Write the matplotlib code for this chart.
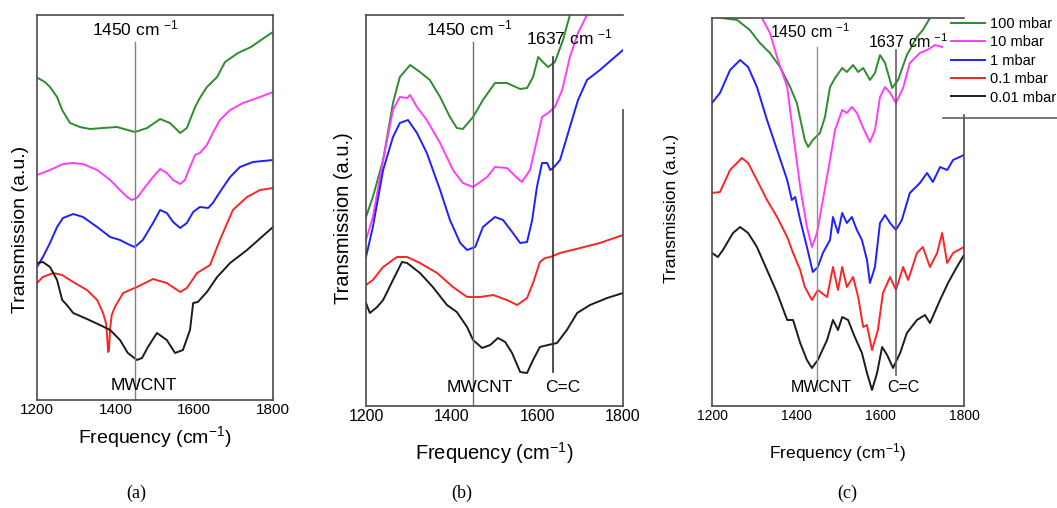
import matplotlib
matplotlib.use('Agg')
import matplotlib.pyplot as plt
from matplotlib.lines import Line2D

plt.rcParams['font.family'] = ['Liberation Sans', 'DejaVu Sans']
plt.rcParams['mathtext.default'] = 'regular'

W, H = 1057, 508

# ---- panel (a) ----
a_green_x = [1202, 1220, 1233, 1251, 1264, 1284, 1309, 1335, 1403, 1449, 1480, 1513, 1538, 1564, 1581, 1602, 1614, 1632, 1658, 1678, 1711, 1744, 1777, 1800]
a_green_y = [3.22, 3.18, 3.13, 3.03, 2.90, 2.77, 2.73, 2.71, 2.73, 2.68, 2.72, 2.81, 2.77, 2.67, 2.72, 2.93, 3.02, 3.13, 3.23, 3.38, 3.47, 3.53, 3.62, 3.68]
a_mag_x = [1200, 1233, 1266, 1292, 1317, 1353, 1386, 1411, 1429, 1441, 1454, 1475, 1495, 1513, 1530, 1546, 1564, 1576, 1589, 1602, 1614, 1632, 1647, 1665, 1691, 1724, 1767, 1800]
a_mag_y = [2.25, 2.30, 2.36, 2.37, 2.36, 2.30, 2.20, 2.10, 2.03, 2.00, 2.02, 2.13, 2.23, 2.31, 2.27, 2.20, 2.16, 2.20, 2.33, 2.45, 2.47, 2.55, 2.67, 2.80, 2.90, 2.97, 3.03, 3.08]
a_blue_x = [1200, 1215, 1233, 1251, 1266, 1292, 1317, 1353, 1386, 1411, 1436, 1449, 1469, 1495, 1513, 1530, 1546, 1564, 1581, 1597, 1614, 1635, 1647, 1665, 1691, 1716, 1749, 1800]
a_blue_y = [1.33, 1.43, 1.57, 1.73, 1.82, 1.86, 1.83, 1.73, 1.63, 1.60, 1.55, 1.53, 1.60, 1.77, 1.90, 1.87, 1.78, 1.72, 1.77, 1.88, 1.93, 1.92, 1.97, 2.08, 2.23, 2.33, 2.38, 2.40]
a_red_x = [1200, 1215, 1241, 1264, 1292, 1327, 1353, 1368, 1376, 1381, 1383, 1386, 1390, 1398, 1419, 1454, 1495, 1530, 1564, 1581, 1607, 1640, 1665, 1698, 1734, 1767, 1800]
a_red_y = [1.17, 1.23, 1.27, 1.25, 1.18, 1.10, 1.00, 0.87, 0.76, 0.48, 0.50, 0.72, 0.85, 0.93, 1.07, 1.13, 1.21, 1.17, 1.08, 1.12, 1.27, 1.35, 1.60, 1.90, 2.03, 2.10, 2.12]
a_black_x = [1200, 1215, 1233, 1251, 1264, 1276, 1292, 1327, 1360, 1386, 1411, 1431, 1454, 1467, 1482, 1505, 1530, 1551, 1571, 1589, 1597, 1609, 1632, 1658, 1691, 1734, 1800]
a_black_y = [1.37, 1.38, 1.33, 1.20, 1.00, 0.95, 0.87, 0.81, 0.75, 0.70, 0.60, 0.47, 0.40, 0.42, 0.53, 0.67, 0.60, 0.47, 0.50, 0.70, 0.97, 0.98, 1.08, 1.23, 1.37, 1.50, 1.73]

# ---- panel (b) ----
b_green_x = [1200, 1216, 1240, 1263, 1279, 1303, 1326, 1349, 1373, 1396, 1412, 1426, 1450, 1473, 1501, 1529, 1560, 1576, 1590, 1602, 1613, 1625, 1641, 1660, 1676, 1683]
b_green_y = [1.89, 2.09, 2.46, 3.03, 3.29, 3.41, 3.34, 3.26, 3.09, 2.89, 2.78, 2.77, 2.89, 3.06, 3.23, 3.23, 3.17, 3.18, 3.29, 3.49, 3.44, 3.39, 3.44, 3.66, 3.91, 4.06]
b_mag_x = [1200, 1216, 1240, 1263, 1279, 1296, 1303, 1319, 1342, 1373, 1403, 1426, 1450, 1483, 1501, 1529, 1553, 1564, 1583, 1599, 1611, 1625, 1641, 1658, 1676, 1695, 1718, 1728]
b_mag_y = [1.66, 1.89, 2.46, 2.96, 3.09, 3.08, 3.11, 2.99, 2.86, 2.63, 2.36, 2.23, 2.19, 2.29, 2.39, 2.38, 2.28, 2.24, 2.36, 2.66, 2.89, 2.93, 2.99, 3.16, 3.49, 3.73, 3.93, 4.06]
b_blue_x = [1200, 1216, 1240, 1263, 1279, 1298, 1319, 1342, 1373, 1396, 1420, 1436, 1455, 1473, 1501, 1520, 1543, 1560, 1576, 1588, 1599, 1611, 1623, 1630, 1637, 1653, 1676, 1695, 1716, 1746, 1800]
b_blue_y = [1.49, 1.79, 2.36, 2.69, 2.83, 2.86, 2.73, 2.53, 2.16, 1.86, 1.63, 1.56, 1.59, 1.79, 1.89, 1.86, 1.73, 1.63, 1.64, 1.86, 2.19, 2.43, 2.43, 2.36, 2.38, 2.46, 2.79, 3.06, 3.26, 3.36, 3.56]
b_red_x = [1200, 1216, 1240, 1272, 1296, 1326, 1366, 1403, 1436, 1466, 1497, 1529, 1553, 1576, 1590, 1606, 1618, 1630, 1653, 1700, 1746, 1800]
b_red_y = [1.21, 1.26, 1.39, 1.49, 1.49, 1.43, 1.33, 1.19, 1.09, 1.09, 1.11, 1.06, 1.01, 1.08, 1.23, 1.44, 1.48, 1.49, 1.53, 1.58, 1.63, 1.71]
b_black_x = [1200, 1209, 1226, 1240, 1263, 1284, 1296, 1326, 1356, 1389, 1412, 1436, 1450, 1471, 1490, 1508, 1525, 1541, 1560, 1576, 1590, 1606, 1625, 1646, 1669, 1693, 1723, 1763, 1800]
b_black_y = [1.03, 0.93, 0.99, 1.06, 1.26, 1.44, 1.43, 1.33, 1.19, 1.01, 0.94, 0.79, 0.66, 0.58, 0.61, 0.68, 0.64, 0.53, 0.34, 0.33, 0.46, 0.59, 0.61, 0.63, 0.76, 0.93, 1.01, 1.08, 1.13]

# ---- panel (c) ----
c_green_x = [1200, 1224, 1260, 1290, 1314, 1338, 1362, 1386, 1402, 1421, 1429, 1440, 1457, 1469, 1481, 1493, 1510, 1521, 1536, 1548, 1560, 1576, 1588, 1600, 1612, 1629, 1643, 1664, 1688, 1702, 1719, 1731]
c_green_y = [3.96, 3.88, 3.86, 3.76, 3.63, 3.53, 3.39, 3.19, 3.03, 2.66, 2.59, 2.66, 2.73, 2.89, 3.19, 3.28, 3.38, 3.34, 3.41, 3.34, 3.38, 3.26, 3.33, 3.51, 3.43, 3.18, 3.26, 3.51, 3.69, 3.76, 3.88, 3.98]
c_mag_x = [1302, 1319, 1338, 1357, 1379, 1393, 1410, 1426, 1438, 1450, 1464, 1481, 1493, 1510, 1521, 1533, 1545, 1560, 1576, 1588, 1600, 1612, 1624, 1638, 1655, 1671, 1695, 1712, 1731, 1748]
c_mag_y = [4.11, 3.88, 3.73, 3.46, 3.19, 2.73, 2.19, 1.79, 1.59, 1.73, 2.06, 2.46, 2.76, 2.96, 2.93, 2.99, 2.93, 2.78, 2.64, 2.76, 3.09, 3.19, 3.13, 3.03, 3.18, 3.43, 3.53, 3.56, 3.61, 3.59]
c_blue_x = [1200, 1219, 1243, 1267, 1286, 1307, 1331, 1355, 1379, 1390, 1398, 1410, 1426, 1440, 1452, 1464, 1481, 1488, 1500, 1510, 1521, 1533, 1545, 1557, 1569, 1576, 1588, 1600, 1612, 1624, 1638, 1652, 1671, 1695, 1712, 1726, 1743, 1760, 1774, 1800]
c_blue_y = [3.03, 3.13, 3.36, 3.46, 3.39, 3.19, 2.86, 2.56, 2.26, 2.06, 2.09, 1.86, 1.59, 1.34, 1.39, 1.53, 1.66, 1.89, 1.73, 1.93, 1.83, 1.89, 1.76, 1.66, 1.46, 1.23, 1.39, 1.83, 1.91, 1.83, 1.76, 1.86, 2.13, 2.23, 2.33, 2.24, 2.39, 2.36, 2.46, 2.51]
c_red_x = [1200, 1219, 1243, 1271, 1286, 1307, 1331, 1355, 1379, 1393, 1410, 1421, 1438, 1452, 1474, 1488, 1500, 1510, 1521, 1536, 1548, 1560, 1569, 1581, 1595, 1607, 1624, 1638, 1655, 1667, 1688, 1702, 1719, 1736, 1748, 1760, 1774, 1800]
c_red_y = [2.13, 2.14, 2.36, 2.48, 2.43, 2.26, 2.06, 1.89, 1.69, 1.53, 1.36, 1.19, 1.06, 1.16, 1.09, 1.39, 1.16, 1.39, 1.19, 1.29, 1.09, 0.79, 0.81, 0.56, 0.76, 1.13, 1.29, 1.16, 1.39, 1.26, 1.53, 1.59, 1.39, 1.53, 1.73, 1.43, 1.53, 1.59]
c_black_x = [1200, 1214, 1226, 1250, 1267, 1286, 1307, 1331, 1355, 1379, 1393, 1410, 1426, 1438, 1452, 1474, 1488, 1500, 1510, 1524, 1540, 1557, 1569, 1581, 1593, 1605, 1617, 1631, 1648, 1664, 1688, 1707, 1719, 1743, 1762, 1783, 1800]
c_black_y = [1.53, 1.49, 1.56, 1.73, 1.79, 1.73, 1.59, 1.36, 1.13, 0.86, 0.86, 0.63, 0.46, 0.38, 0.46, 0.66, 0.86, 0.76, 0.89, 0.86, 0.69, 0.53, 0.33, 0.16, 0.33, 0.59, 0.51, 0.38, 0.53, 0.73, 0.86, 0.91, 0.83, 1.06, 1.23, 1.39, 1.51]

labels = ['100 mbar', '10 mbar', '1 mbar', '0.1 mbar', '0.01 mbar']
colors = ['#2e8b2e', '#ff3cff', '#1f1fff', '#ff2424', '#1c1c1c']
peaks = [1450, 1637]
xticks = [1200, 1400, 1600, 1800]

fig = plt.figure(figsize=(W / 100, H / 100), dpi=100)


def make_ax(left, top, right, bottom):
    return fig.add_axes([left / W, 1 - bottom / H, (right - left) / W, (bottom - top) / H])


def ftext(px, py, s, **kw):
    fig.text(px / W, 1 - py / H, s, ha='center', va='center', **kw)


def style(ax, ymax, fs_tick, fs_lab, xl, yl, right_frac=None):
    ax.set_xlim(1200, 1800)
    ax.set_ylim(0, ymax)
    ax.set_xticks(xticks)
    ax.set_yticks([])
    ax.tick_params(axis='x', length=0, pad=2, labelsize=fs_tick)
    for s in ax.spines.values():
        s.set_color('#4a4a4a')
        s.set_linewidth(1.2)
    ax.set_xlabel('Frequency (cm$^{-1}$)', fontsize=fs_lab, va='center')
    ax.xaxis.set_label_coords(0.5, xl)
    ax.set_ylabel('Transmission (a.u.)', fontsize=fs_lab, va='center')
    ax.yaxis.set_label_coords(yl[0], yl[1])
    if right_frac is not None:
        # right frame only starts below the labels/legend
        ax.spines['right'].set_visible(False)
        ax.plot([1, 1], [0, right_frac], transform=ax.transAxes, color='#4a4a4a',
                lw=1.2, clip_on=False)


# (a)
ax1 = make_ax(37, 15, 273, 400)
for xs, ys, c in zip([a_green_x, a_mag_x, a_blue_x, a_red_x, a_black_x],
                     [a_green_y, a_mag_y, a_blue_y, a_red_y, a_black_y], colors):
    ax1.plot(xs, ys, color=c, lw=1.4)
ax1.axvline(peaks[0], ymin=0, ymax=0.93, color='#808080', lw=1)
style(ax1, 3.85, 11, 14, -0.096, (-0.072, 0.444))
ftext(135, 28, '1450 cm $^{-1}$', fontsize=12.5)
ftext(144, 385, 'MWCNT', fontsize=12.5)

# (b)
ax2 = make_ax(366, 15, 623, 406)
for xs, ys, c in zip([b_green_x, b_mag_x, b_blue_x, b_red_x, b_black_x],
                     [b_green_y, b_mag_y, b_blue_y, b_red_y, b_black_y], colors):
    ax2.plot(xs, ys, color=c, lw=1.4)
ax2.axvline(peaks[0], ymin=0, ymax=0.931, color='#707070', lw=1)
ax2.axvline(peaks[1], ymin=0.087, ymax=0.893, color='#303030', lw=1.2)
style(ax2, 3.91, 11.5, 14.5, -0.120, (-0.086, 0.481), right_frac=0.757)
ftext(469, 28, '1450 cm $^{-1}$', fontsize=12.5)
ftext(569, 37, '1637 cm $^{-1}$', fontsize=12.5)
ftext(480, 388, 'MWCNT', fontsize=12.5)
ftext(563, 387, 'C=C', fontsize=12.5)

# (c)
ax3 = make_ax(712, 18, 964, 406)
lines = []
for xs, ys, c in zip([c_green_x, c_mag_x, c_blue_x, c_red_x, c_black_x],
                     [c_green_y, c_mag_y, c_blue_y, c_red_y, c_black_y], colors):
    ln, = ax3.plot(xs, ys, color=c, lw=1.4)
    lines.append(ln)
ax3.axvline(peaks[0], ymin=0.041, ymax=0.925, color='#909090', lw=1)
ax3.axvline(peaks[1], ymin=0.08, ymax=0.918, color='#606060', lw=1.2)
style(ax3, 3.88, 10, 12.5, -0.121, (-0.159, 0.51), right_frac=0.75)
ftext(810, 32, '1450 cm $^{-1}$', fontsize=11.5)
ftext(908, 42, '1637 cm $^{-1}$', fontsize=11.5)
ftext(821, 388, 'MWCNT', fontsize=11.5)
ftext(903, 387, 'C=C', fontsize=11.5)

fig.legend(lines, labels, loc='upper left', bbox_to_anchor=(951 / W, 1 - 17 / H),
           frameon=False, fontsize=10.5, borderpad=0, borderaxespad=0,
           handlelength=2.3, handletextpad=0.35, labelspacing=0.3)
fig.add_artist(Line2D([943 / W, 1.0], [1 - 118 / H, 1 - 118 / H],
                      transform=fig.transFigure, color='#606060', lw=1.2))

for px, s in zip([136, 462, 847], ['(a)', '(b)', '(c)']):
    ftext(px, 493, s, fontsize=13, family='Liberation Serif')

fig.savefig('out.png', dpi=100)
